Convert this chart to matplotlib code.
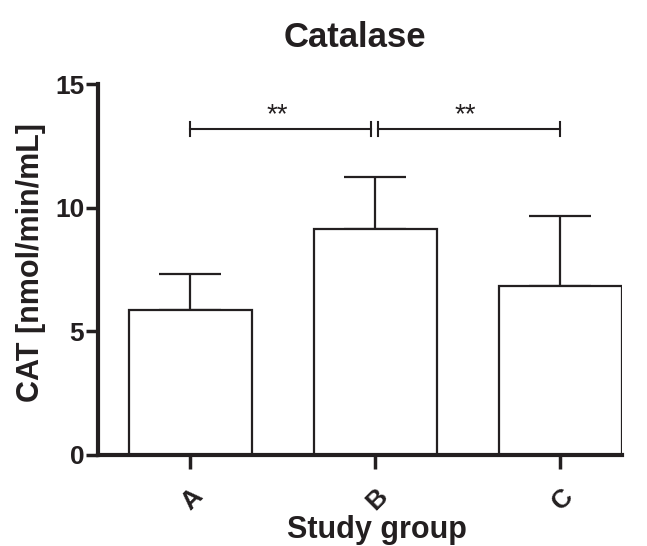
import numpy as np
import matplotlib
matplotlib.use("Agg")
import matplotlib.pyplot as plt

plt.rcParams['font.family'] = ['Liberation Sans', 'DejaVu Sans']

# data
groups = ["A", "B", "C"]
means = [5.86, 9.14, 6.85]
sds = [1.46, 2.10, 2.81]
sig_pairs = [(0, 0.975), (1.015, 2.0)]
sig_labels = ["**", "**"]
sig_y = 13.2

ink = '#231f20'

fig = plt.figure(figsize=(6.47, 5.46), dpi=100)
ax = fig.add_axes([0.1515, 0.1667, 0.8098, 0.6789])

x = np.arange(len(groups))
ax.bar(x, means, width=2/3, color='white', edgecolor=ink, linewidth=1.6, zorder=2)
ax.errorbar(x, means, yerr=[np.zeros(len(sds)), sds], fmt='none', ecolor=ink,
            elinewidth=1.6, capsize=22, capthick=1.6, zorder=1)

# significance brackets
for (x0, x1), lab in zip(sig_pairs, sig_labels):
    ax.plot([x0, x1], [sig_y, sig_y], color=ink, lw=1.5)
    ax.plot([x0, x0], [sig_y - 0.28, sig_y + 0.28], color=ink, lw=1.5)
    ax.plot([x1, x1], [sig_y - 0.28, sig_y + 0.28], color=ink, lw=1.5)
    ax.text((x0 + x1) / 2 - 0.02, sig_y + 0.28, lab, ha='center', va='baseline',
            fontsize=20, color=ink)

ax.set_xlim(-0.5, 2.333)
ax.set_ylim(0, 15)
ax.set_yticks([0, 5, 10, 15])
ax.set_xticks(x)
ax.set_xticklabels(groups, rotation=45, ha='right', va='top', rotation_mode='anchor')

for s in ['top', 'right']:
    ax.spines[s].set_visible(False)
for s in ['left', 'bottom']:
    ax.spines[s].set_linewidth(3)
    ax.spines[s].set_color(ink)

ax.tick_params(axis='y', direction='out', length=9, width=2.5, colors=ink,
               labelsize=19, pad=1)
ax.tick_params(axis='x', direction='out', length=10, width=2.5, colors=ink,
               labelsize=19, pad=11)
for t in ax.get_xticklabels() + ax.get_yticklabels():
    t.set_fontweight('bold')

ax.set_title('Catalase', fontsize=25, fontweight='bold', color=ink, pad=27, x=0.49)
ax.set_ylabel('CAT [nmol/min/mL]', fontsize=22, fontweight='bold', color=ink)
ax.yaxis.set_label_coords(-0.099, 0.519)
ax.set_xlabel('Study group', fontsize=22, fontweight='bold', color=ink)
ax.xaxis.set_label_coords(0.532, -0.162)

fig.savefig('out.png', dpi=100)
